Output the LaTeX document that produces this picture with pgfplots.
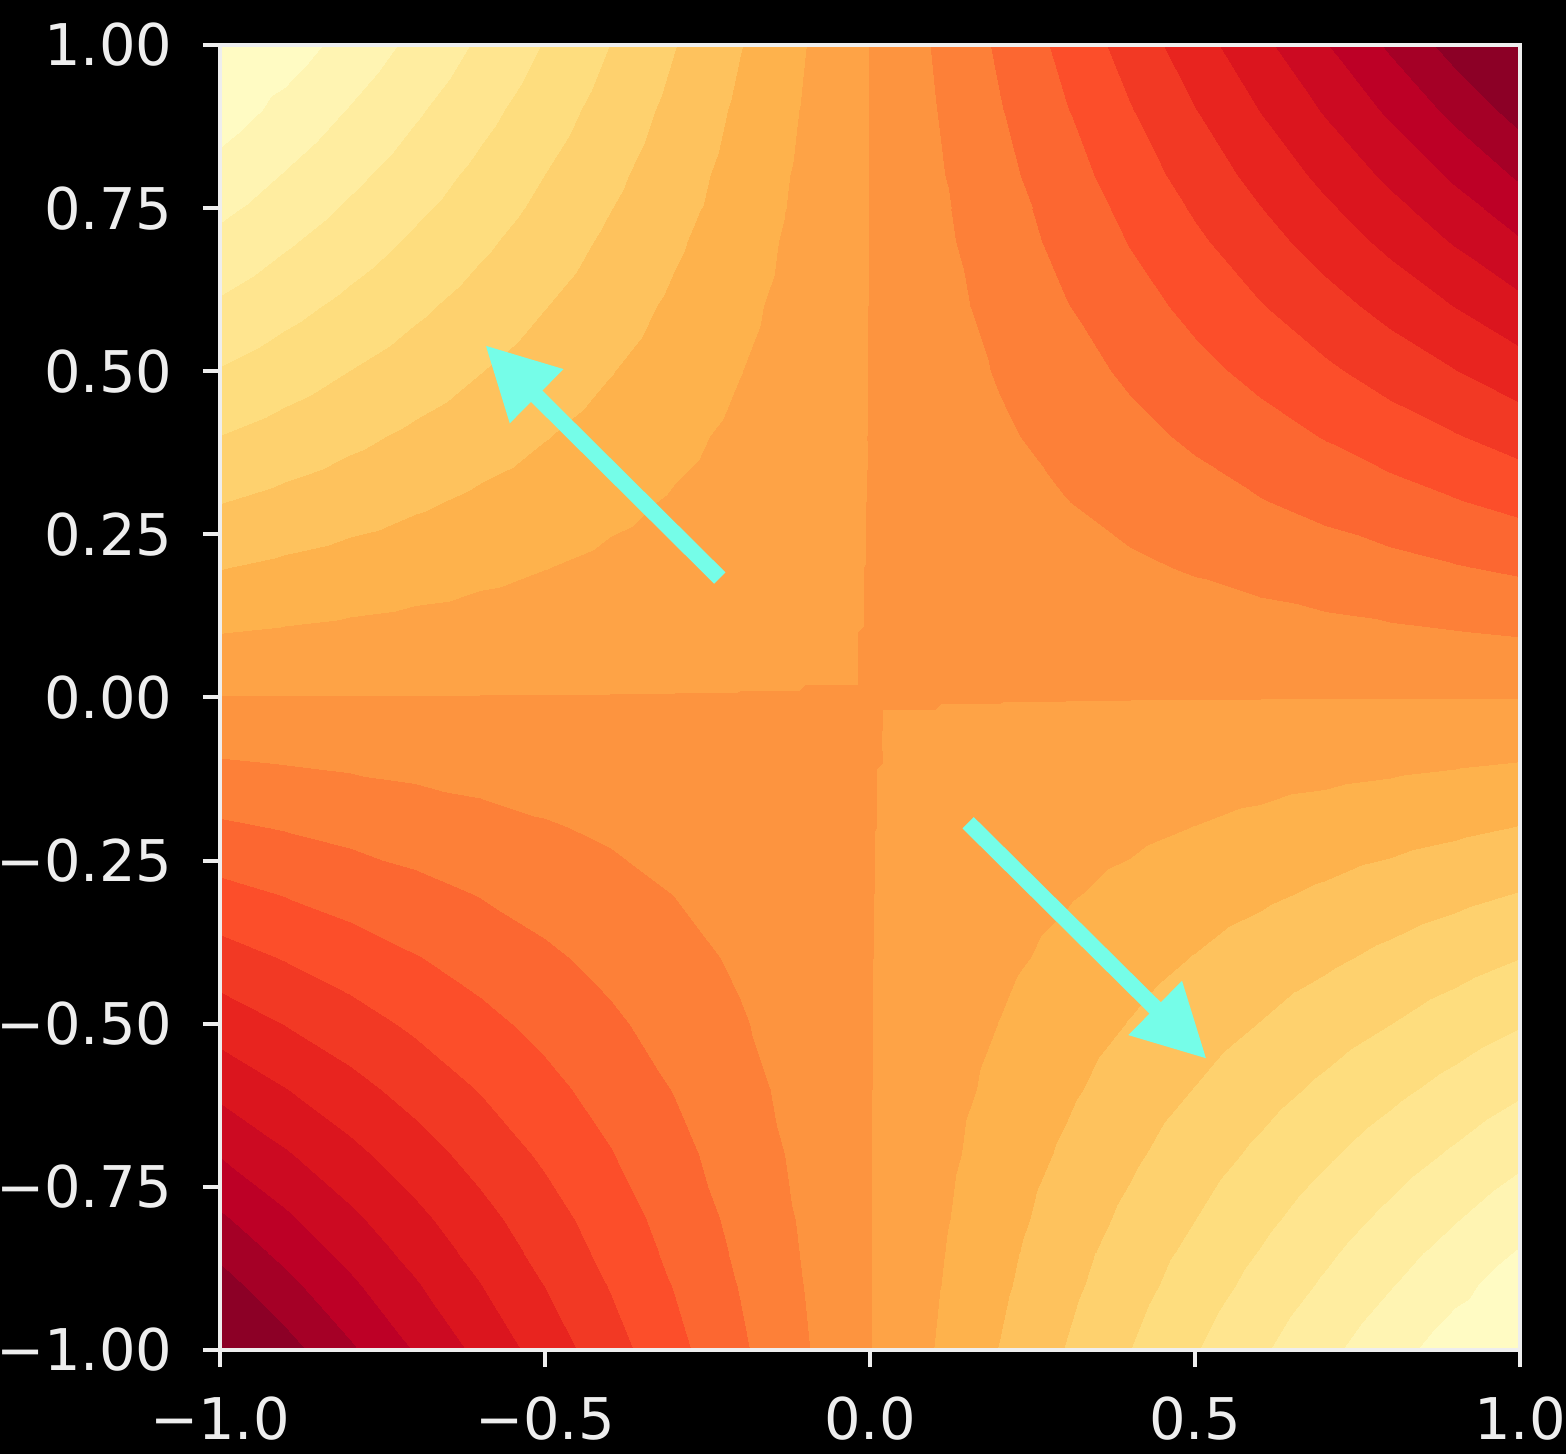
\documentclass[border=0pt]{standalone}
\usepackage{fontspec}
\setmainfont{DejaVu Sans}
\usepackage{pgfplots}
\pgfplotsset{compat=1.18}
\usetikzlibrary{arrows.meta}
\definecolor{arrowc}{RGB}{117,253,232}
\definecolor{framec}{RGB}{238,238,238}
\pgfplotsset{
  colormap={ylorrd20}{
    rgb255=(255,251,195) rgb255=(255,244,178) rgb255=(255,237,160) rgb255=(255,229,143)
    rgb255=(254,221,126) rgb255=(254,209,110) rgb255=(254,194,93) rgb255=(254,178,76)
    rgb255=(254,163,70) rgb255=(253,148,63) rgb255=(253,128,56) rgb255=(252,103,49)
    rgb255=(252,78,42) rgb255=(242,57,36) rgb255=(232,36,31) rgb255=(219,21,30)
    rgb255=(204,10,34) rgb255=(189,0,38) rgb255=(165,0,38) rgb255=(140,0,38)
    rgb255=(140,0,38)
  }
}
\begin{document}
\begin{tikzpicture}
\path[use as bounding box, fill=black] (-44pt,-20.8pt) rectangle (269.2pt,270pt);
\begin{axis}[
  at={(0pt,0pt)}, anchor=south west,
  scale only axis, width=260pt, height=261pt,
  xmin=-1, xmax=1, ymin=-1, ymax=1,
  axis on top,
  colormap name=ylorrd20, colormap access=piecewise constant,
  point meta min=-0.859, point meta max=1.141,
  axis line style={draw=framec, line width=0.8pt},
  tick pos=left, tick align=outside,
  major tick length=3.4pt,
  every tick/.style={draw=framec, line width=0.8pt},
  xtick={-1,-0.5,0,0.5,1},
  xticklabels={−1.0,−0.5,0.0,0.5,1.0},
  ytick={-1,-0.75,-0.5,-0.25,0,0.25,0.5,0.75,1},
  yticklabels={−1.00,−0.75,−0.50,−0.25,0.00,0.25,0.50,0.75,1.00},
  ticklabel style={font=\fontsize{11.5}{13}\selectfont, text=framec},
  xticklabel style={yshift=-2.4pt},
  yticklabel style={xshift=-2.6pt},
]
\addplot[surf, shader=interp, point meta=\thisrow{z}] table[x=x, y=y] {
x y z
-1 -1 1.110
-0.9 -1 0.989
-0.8 -1 0.870
-0.7 -1 0.754
-0.6 -1 0.640
-0.5 -1 0.528
-0.4 -1 0.418
-0.3 -1 0.310
-0.2 -1 0.204
-0.1 -1 0.101
0 -1 0
0.1 -1 -0.099
0.2 -1 -0.196
0.3 -1 -0.290
0.4 -1 -0.382
0.5 -1 -0.472
0.6 -1 -0.560
0.7 -1 -0.646
0.8 -1 -0.730
0.9 -1 -0.811
1 -1 -0.890

-1 -0.9 0.989
-0.9 -0.9 0.882
-0.8 -0.9 0.777
-0.7 -0.9 0.674
-0.6 -0.9 0.572
-0.5 -0.9 0.472
-0.4 -0.9 0.374
-0.3 -0.9 0.278
-0.2 -0.9 0.184
-0.1 -0.9 0.091
0 -0.9 0
0.1 -0.9 -0.089
0.2 -0.9 -0.176
0.3 -0.9 -0.262
0.4 -0.9 -0.346
0.5 -0.9 -0.428
0.6 -0.9 -0.508
0.7 -0.9 -0.586
0.8 -0.9 -0.663
0.9 -0.9 -0.738
1 -0.9 -0.811

-1 -0.8 0.870
-0.9 -0.8 0.777
-0.8 -0.8 0.685
-0.7 -0.8 0.594
-0.6 -0.8 0.505
-0.5 -0.8 0.418
-0.4 -0.8 0.331
-0.3 -0.8 0.246
-0.2 -0.8 0.163
-0.1 -0.8 0.081
0 -0.8 0
0.1 -0.8 -0.079
0.2 -0.8 -0.157
0.3 -0.8 -0.234
0.4 -0.8 -0.309
0.5 -0.8 -0.382
0.6 -0.8 -0.455
0.7 -0.8 -0.526
0.8 -0.8 -0.595
0.9 -0.8 -0.663
1 -0.8 -0.730

-1 -0.7 0.754
-0.9 -0.7 0.674
-0.8 -0.7 0.594
-0.7 -0.7 0.516
-0.6 -0.7 0.439
-0.5 -0.7 0.363
-0.4 -0.7 0.289
-0.3 -0.7 0.215
-0.2 -0.7 0.142
-0.1 -0.7 0.071
0 -0.7 0
0.1 -0.7 -0.069
0.2 -0.7 -0.138
0.3 -0.7 -0.205
0.4 -0.7 -0.271
0.5 -0.7 -0.337
0.6 -0.7 -0.401
0.7 -0.7 -0.464
0.8 -0.7 -0.526
0.9 -0.7 -0.586
1 -0.7 -0.646

-1 -0.6 0.640
-0.9 -0.6 0.572
-0.8 -0.6 0.505
-0.7 -0.6 0.439
-0.6 -0.6 0.374
-0.5 -0.6 0.310
-0.4 -0.6 0.246
-0.3 -0.6 0.184
-0.2 -0.6 0.122
-0.1 -0.6 0.060
0 -0.6 0
0.1 -0.6 -0.060
0.2 -0.6 -0.118
0.3 -0.6 -0.176
0.4 -0.6 -0.234
0.5 -0.6 -0.290
0.6 -0.6 -0.346
0.7 -0.6 -0.401
0.8 -0.6 -0.455
0.9 -0.6 -0.508
1 -0.6 -0.560

-1 -0.5 0.528
-0.9 -0.5 0.472
-0.8 -0.5 0.418
-0.7 -0.5 0.363
-0.6 -0.5 0.310
-0.5 -0.5 0.257
-0.4 -0.5 0.204
-0.3 -0.5 0.152
-0.2 -0.5 0.101
-0.1 -0.5 0.050
0 -0.5 0
0.1 -0.5 -0.050
0.2 -0.5 -0.099
0.3 -0.5 -0.148
0.4 -0.5 -0.196
0.5 -0.5 -0.243
0.6 -0.5 -0.290
0.7 -0.5 -0.337
0.8 -0.5 -0.382
0.9 -0.5 -0.428
1 -0.5 -0.472

-1 -0.4 0.418
-0.9 -0.4 0.374
-0.8 -0.4 0.331
-0.7 -0.4 0.289
-0.6 -0.4 0.246
-0.5 -0.4 0.204
-0.4 -0.4 0.163
-0.3 -0.4 0.122
-0.2 -0.4 0.081
-0.1 -0.4 0.040
0 -0.4 0
0.1 -0.4 -0.040
0.2 -0.4 -0.079
0.3 -0.4 -0.118
0.4 -0.4 -0.157
0.5 -0.4 -0.196
0.6 -0.4 -0.234
0.7 -0.4 -0.271
0.8 -0.4 -0.309
0.9 -0.4 -0.346
1 -0.4 -0.382

-1 -0.3 0.310
-0.9 -0.3 0.278
-0.8 -0.3 0.246
-0.7 -0.3 0.215
-0.6 -0.3 0.184
-0.5 -0.3 0.152
-0.4 -0.3 0.122
-0.3 -0.3 0.091
-0.2 -0.3 0.060
-0.1 -0.3 0.030
0 -0.3 0
0.1 -0.3 -0.030
0.2 -0.3 -0.060
0.3 -0.3 -0.089
0.4 -0.3 -0.118
0.5 -0.3 -0.148
0.6 -0.3 -0.176
0.7 -0.3 -0.205
0.8 -0.3 -0.234
0.9 -0.3 -0.262
1 -0.3 -0.290

-1 -0.2 0.204
-0.9 -0.2 0.184
-0.8 -0.2 0.163
-0.7 -0.2 0.142
-0.6 -0.2 0.122
-0.5 -0.2 0.101
-0.4 -0.2 0.081
-0.3 -0.2 0.060
-0.2 -0.2 0.040
-0.1 -0.2 0.020
0 -0.2 0
0.1 -0.2 -0.020
0.2 -0.2 -0.040
0.3 -0.2 -0.060
0.4 -0.2 -0.079
0.5 -0.2 -0.099
0.6 -0.2 -0.118
0.7 -0.2 -0.138
0.8 -0.2 -0.157
0.9 -0.2 -0.176
1 -0.2 -0.196

-1 -0.1 0.101
-0.9 -0.1 0.091
-0.8 -0.1 0.081
-0.7 -0.1 0.071
-0.6 -0.1 0.060
-0.5 -0.1 0.050
-0.4 -0.1 0.040
-0.3 -0.1 0.030
-0.2 -0.1 0.020
-0.1 -0.1 0.010
0 -0.1 0
0.1 -0.1 -0.010
0.2 -0.1 -0.020
0.3 -0.1 -0.030
0.4 -0.1 -0.040
0.5 -0.1 -0.050
0.6 -0.1 -0.060
0.7 -0.1 -0.069
0.8 -0.1 -0.079
0.9 -0.1 -0.089
1 -0.1 -0.099

-1 0 0
-0.9 0 0
-0.8 0 0
-0.7 0 0
-0.6 0 0
-0.5 0 0
-0.4 0 0
-0.3 0 0
-0.2 0 0
-0.1 0 0
0 0 0
0.1 0 0
0.2 0 0
0.3 0 0
0.4 0 0
0.5 0 0
0.6 0 0
0.7 0 0
0.8 0 0
0.9 0 0
1 0 0

-1 0.1 -0.099
-0.9 0.1 -0.089
-0.8 0.1 -0.079
-0.7 0.1 -0.069
-0.6 0.1 -0.060
-0.5 0.1 -0.050
-0.4 0.1 -0.040
-0.3 0.1 -0.030
-0.2 0.1 -0.020
-0.1 0.1 -0.010
0 0.1 0
0.1 0.1 0.010
0.2 0.1 0.020
0.3 0.1 0.030
0.4 0.1 0.040
0.5 0.1 0.050
0.6 0.1 0.060
0.7 0.1 0.071
0.8 0.1 0.081
0.9 0.1 0.091
1 0.1 0.101

-1 0.2 -0.196
-0.9 0.2 -0.176
-0.8 0.2 -0.157
-0.7 0.2 -0.138
-0.6 0.2 -0.118
-0.5 0.2 -0.099
-0.4 0.2 -0.079
-0.3 0.2 -0.060
-0.2 0.2 -0.040
-0.1 0.2 -0.020
0 0.2 0
0.1 0.2 0.020
0.2 0.2 0.040
0.3 0.2 0.060
0.4 0.2 0.081
0.5 0.2 0.101
0.6 0.2 0.122
0.7 0.2 0.142
0.8 0.2 0.163
0.9 0.2 0.184
1 0.2 0.204

-1 0.3 -0.290
-0.9 0.3 -0.262
-0.8 0.3 -0.234
-0.7 0.3 -0.205
-0.6 0.3 -0.176
-0.5 0.3 -0.148
-0.4 0.3 -0.118
-0.3 0.3 -0.089
-0.2 0.3 -0.060
-0.1 0.3 -0.030
0 0.3 0
0.1 0.3 0.030
0.2 0.3 0.060
0.3 0.3 0.091
0.4 0.3 0.122
0.5 0.3 0.152
0.6 0.3 0.184
0.7 0.3 0.215
0.8 0.3 0.246
0.9 0.3 0.278
1 0.3 0.310

-1 0.4 -0.382
-0.9 0.4 -0.346
-0.8 0.4 -0.309
-0.7 0.4 -0.271
-0.6 0.4 -0.234
-0.5 0.4 -0.196
-0.4 0.4 -0.157
-0.3 0.4 -0.118
-0.2 0.4 -0.079
-0.1 0.4 -0.040
0 0.4 0
0.1 0.4 0.040
0.2 0.4 0.081
0.3 0.4 0.122
0.4 0.4 0.163
0.5 0.4 0.204
0.6 0.4 0.246
0.7 0.4 0.289
0.8 0.4 0.331
0.9 0.4 0.374
1 0.4 0.418

-1 0.5 -0.472
-0.9 0.5 -0.428
-0.8 0.5 -0.382
-0.7 0.5 -0.337
-0.6 0.5 -0.290
-0.5 0.5 -0.243
-0.4 0.5 -0.196
-0.3 0.5 -0.148
-0.2 0.5 -0.099
-0.1 0.5 -0.050
0 0.5 0
0.1 0.5 0.050
0.2 0.5 0.101
0.3 0.5 0.152
0.4 0.5 0.204
0.5 0.5 0.257
0.6 0.5 0.310
0.7 0.5 0.363
0.8 0.5 0.418
0.9 0.5 0.472
1 0.5 0.528

-1 0.6 -0.560
-0.9 0.6 -0.508
-0.8 0.6 -0.455
-0.7 0.6 -0.401
-0.6 0.6 -0.346
-0.5 0.6 -0.290
-0.4 0.6 -0.234
-0.3 0.6 -0.176
-0.2 0.6 -0.118
-0.1 0.6 -0.060
0 0.6 0
0.1 0.6 0.060
0.2 0.6 0.122
0.3 0.6 0.184
0.4 0.6 0.246
0.5 0.6 0.310
0.6 0.6 0.374
0.7 0.6 0.439
0.8 0.6 0.505
0.9 0.6 0.572
1 0.6 0.640

-1 0.7 -0.646
-0.9 0.7 -0.586
-0.8 0.7 -0.526
-0.7 0.7 -0.464
-0.6 0.7 -0.401
-0.5 0.7 -0.337
-0.4 0.7 -0.271
-0.3 0.7 -0.205
-0.2 0.7 -0.138
-0.1 0.7 -0.069
0 0.7 0
0.1 0.7 0.071
0.2 0.7 0.142
0.3 0.7 0.215
0.4 0.7 0.289
0.5 0.7 0.363
0.6 0.7 0.439
0.7 0.7 0.516
0.8 0.7 0.594
0.9 0.7 0.674
1 0.7 0.754

-1 0.8 -0.730
-0.9 0.8 -0.663
-0.8 0.8 -0.595
-0.7 0.8 -0.526
-0.6 0.8 -0.455
-0.5 0.8 -0.382
-0.4 0.8 -0.309
-0.3 0.8 -0.234
-0.2 0.8 -0.157
-0.1 0.8 -0.079
0 0.8 0
0.1 0.8 0.081
0.2 0.8 0.163
0.3 0.8 0.246
0.4 0.8 0.331
0.5 0.8 0.418
0.6 0.8 0.505
0.7 0.8 0.594
0.8 0.8 0.685
0.9 0.8 0.777
1 0.8 0.870

-1 0.9 -0.811
-0.9 0.9 -0.738
-0.8 0.9 -0.663
-0.7 0.9 -0.586
-0.6 0.9 -0.508
-0.5 0.9 -0.428
-0.4 0.9 -0.346
-0.3 0.9 -0.262
-0.2 0.9 -0.176
-0.1 0.9 -0.089
0 0.9 0
0.1 0.9 0.091
0.2 0.9 0.184
0.3 0.9 0.278
0.4 0.9 0.374
0.5 0.9 0.472
0.6 0.9 0.572
0.7 0.9 0.674
0.8 0.9 0.777
0.9 0.9 0.882
1 0.9 0.989

-1 1 -0.890
-0.9 1 -0.811
-0.8 1 -0.730
-0.7 1 -0.646
-0.6 1 -0.560
-0.5 1 -0.472
-0.4 1 -0.382
-0.3 1 -0.290
-0.2 1 -0.196
-0.1 1 -0.099
0 1 0
0.1 1 0.101
0.2 1 0.204
0.3 1 0.310
0.4 1 0.418
0.5 1 0.528
0.6 1 0.640
0.7 1 0.754
0.8 1 0.870
0.9 1 0.989
1 1 1.110
};
\addplot[quiver={u=\thisrow{u}, v=\thisrow{v}}, draw=arrowc, line width=3.2pt, line cap=butt,
  -{Triangle[length=14.5pt, width=14.3pt]}] table {
x y u v
-0.231 0.183 -0.361 0.357
0.151 -0.192 0.367 -0.362
};
\end{axis}
\end{tikzpicture}
\end{document}
